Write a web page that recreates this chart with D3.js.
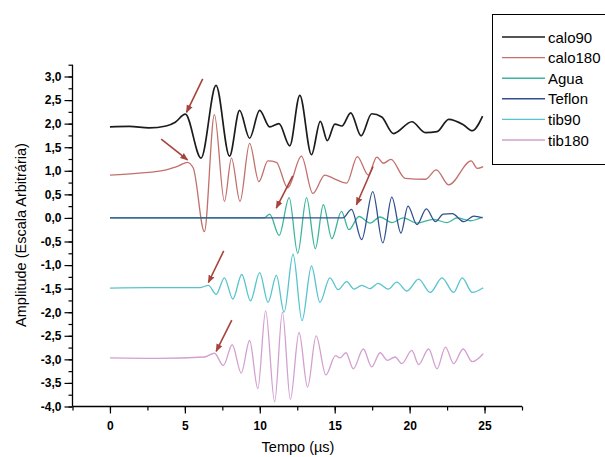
<!DOCTYPE html>
<html>
<head>
<meta charset="utf-8">
<script src="https://cdn.jsdelivr.net/npm/d3@7"></script>
<style>
  html, body { margin: 0; padding: 0; background: #fff; }
  svg { display: block; font-family: "Liberation Sans", Arial, sans-serif; }
</style>
</head>
<body>
<svg id="chart" width="605" height="457"></svg>
<script>
// Ultrasound waveforms: [time (µs), amplitude] at the turning points of each trace
const calo90 = [[0,1.93],[1.3,1.94],[2.6,1.91],[3.75,1.95],[4.36,2.03],[5.03,2.20],[6.08,1.27],[7.08,2.81],[7.98,1.31],[8.65,2.28],[9.32,1.69],[9.99,2.28],[10.66,1.93],[11.28,2.00],[12.0,1.53],[12.67,2.60],[13.45,1.34],[14.04,2.05],[14.51,1.64],[15.01,1.99],[15.48,1.95],[16.07,2.23],[16.76,1.74],[17.47,2.21],[18.14,2.14],[18.92,1.79],[20.15,2.04],[21.05,1.81],[21.83,1.83],[22.61,2.09],[23.61,1.97],[24.18,1.85],[24.87,2.16]];
const calo180 = [[0,0.91],[1.94,0.95],[3.75,1.02],[4.62,1.11],[5.16,1.18],[5.56,1.06],[6.30,-0.29],[6.97,2.19],[7.64,0.35],[8.11,1.27],[8.68,0.35],[9.32,1.58],[9.94,0.77],[10.54,1.21],[11.11,1.18],[11.86,0.64],[12.78,1.31],[13.54,0.52],[14.34,0.91],[14.90,0.84],[15.80,0.74],[16.51,1.30],[17.24,0.91],[17.81,1.29],[18.25,1.16],[18.75,1.24],[19.70,0.84],[21.05,0.82],[21.78,1.02],[22.61,0.70],[24.11,1.21],[24.51,1.05],[24.91,1.09]];
const agua = [[0,0],[10.3,0],[10.66,0.08],[11.29,-0.37],[11.96,0.43],[12.53,-0.75],[13.12,0.43],[13.71,-0.65],[14.24,0.28],[14.81,-0.44],[15.45,0.14],[15.95,-0.25],[16.62,0.03],[17.36,-0.11],[18.03,0.02],[18.82,-0.10],[19.59,0],[20.49,-0.11],[21.60,-0.03],[22.50,-0.10],[23.17,0],[24.06,-0.06],[24.87,0.02]];
const teflon = [[0,0],[15.55,0],[16.12,0.18],[16.80,-0.46],[17.54,0.56],[18.21,-0.53],[18.81,0.44],[19.42,-0.32],[19.89,0.25],[20.49,-0.14],[21.12,0.19],[21.72,-0.08],[22.25,0.08],[22.84,0.09],[23.62,-0.08],[24.28,0.04],[24.87,0]];
const tib90 = [[0,-1.49],[2.6,-1.48],[6.0,-1.48],[6.57,-1.43],[7.09,-1.62],[7.64,-1.27],[8.20,-1.72],[8.80,-1.20],[9.38,-1.76],[9.99,-1.16],[10.55,-1.79],[11.11,-1.22],[11.62,-2.00],[12.22,-0.77],[12.82,-2.18],[13.45,-1.02],[14.01,-1.79],[14.68,-1.27],[15.23,-1.52],[15.80,-1.35],[16.29,-1.51],[16.80,-1.43],[17.36,-1.50],[17.90,-1.39],[18.57,-1.51],[19.15,-1.36],[19.82,-1.55],[20.60,-1.30],[21.38,-1.58],[22.16,-1.27],[22.94,-1.58],[23.51,-1.27],[24.18,-1.58],[24.91,-1.48]];
const tib180 = [[0,-2.97],[3.3,-2.98],[6.3,-2.95],[6.97,-2.87],[7.57,-3.13],[8.16,-2.69],[8.76,-3.29],[9.32,-2.60],[9.87,-3.62],[10.39,-1.97],[10.99,-3.90],[11.51,-2.00],[12.04,-3.85],[12.62,-2.43],[13.19,-3.59],[13.76,-2.50],[14.41,-3.33],[15.05,-2.92],[15.35,-2.97],[15.75,-2.86],[16.24,-3.20],[16.91,-2.78],[17.47,-3.16],[18.03,-2.86],[18.52,-3.02],[19.03,-2.95],[19.48,-3.09],[20.15,-2.81],[20.60,-3.11],[21.27,-2.78],[21.83,-3.20],[22.39,-2.74],[22.94,-3.09],[23.57,-2.78],[24.18,-3.05],[24.91,-2.88]];

// Onset markers: [t0, a0, t1, a1], arrow head at (t1, a1)
const onsetArrows = [[6.19,2.95,5.11,2.24],[3.42,1.67,5.18,1.23],[12.2,0.89,11.1,0.21],[17.56,1.09,16.45,0.28],[7.59,-0.70,6.57,-1.37],[8.13,-2.17,7.09,-2.83]];

const seriesNames = ["calo90", "calo180", "Agua", "Teflon", "tib90", "tib180"];
const seriesData = [calo90, calo180, agua, teflon, tib90, tib180];
const seriesColors = ["#1c1c1c", "#c2706c", "#3db59c", "#2f4f8e", "#56c4cd", "#d2a0d0"];

const xMajorTicks = [0, 5, 10, 15, 20, 25];
const yMajorTicks = [3, 2.5, 2, 1.5, 1, 0.5, 0, -0.5, -1, -1.5, -2, -2.5, -3, -3.5, -4];

const svg = d3.select("#chart");
const x = d3.scaleLinear().domain([-2.5, 27.5]).range([72.5, 522]);
const y = d3.scaleLinear().domain([-4, 3]).range([406.5, 76.5]);
const yTop = 3.25;

const fmt = v => d3.format(".1f")(v).replace(".", ",").replace("−", "-");

// Traces (light ones first so darker traces sit on top)
const line = d3.line().x(d => x(d[0])).y(d => y(d[1])).curve(d3.curveMonotoneX);
const drawOrder = [1, 5, 4, 2, 3, 0];
drawOrder.forEach(i => {
  svg.append("path")
    .datum(seriesData[i])
    .attr("d", line)
    .attr("fill", "none")
    .attr("stroke", seriesColors[i])
    .attr("stroke-width", i === 0 ? 1.7 : 1.3)
    .attr("stroke-linejoin", "round");
});

// Arrow markers
const arrowColor = "#a8433c";
svg.append("defs").append("marker")
  .attr("id", "head")
  .attr("viewBox", "0 0 10 10")
  .attr("refX", 9).attr("refY", 5)
  .attr("markerWidth", 5).attr("markerHeight", 5)
  .attr("orient", "auto")
  .append("path").attr("d", "M0,1 L10,5 L0,9 Z").attr("fill", arrowColor);

svg.append("g").selectAll("line").data(onsetArrows).join("line")
  .attr("x1", d => x(d[0])).attr("y1", d => y(d[1]))
  .attr("x2", d => x(d[2])).attr("y2", d => y(d[3]))
  .attr("stroke", arrowColor).attr("stroke-width", 1.6)
  .attr("marker-end", "url(#head)");

// Axes
const xAxis = svg.append("g").attr("transform", `translate(0,${y(-4)})`);
xAxis.call(d3.axisBottom(x).tickValues(d3.range(-2.5, 27.6, 2.5)).tickSize(4).tickFormat(""));
xAxis.call(g => g.select(".domain").attr("d", `M${x(-2.5)},0H${x(27.5)}`));
xAxis.append("g").call(d3.axisBottom(x).tickValues(xMajorTicks).tickSize(7).tickFormat(d3.format("d")))
  .call(g => g.select(".domain").remove());

const yAxis = svg.append("g").attr("transform", `translate(${x(-2.5)},0)`);
yAxis.call(d3.axisLeft(y).tickValues(d3.range(-4, 3.26, 0.25)).tickSize(4).tickFormat(""));
yAxis.call(g => g.select(".domain").attr("d", `M0,${y(yTop)}V${y(-4)}`));
yAxis.append("g").call(d3.axisLeft(y).tickValues(yMajorTicks).tickSize(8).tickFormat(fmt))
  .call(g => g.select(".domain").remove());

svg.selectAll(".tick line").attr("stroke", "#000").attr("stroke-width", 1.2);
svg.selectAll(".domain").attr("stroke", "#000").attr("stroke-width", 1.3);
svg.selectAll(".tick text")
  .attr("fill", "#000").style("font-size", "12px").style("font-weight", "bold")
  .style("font-family", "'Liberation Sans', Arial, sans-serif");
xAxis.selectAll(".tick text").attr("dy", "1.1em");

// Axis titles
svg.append("text")
  .attr("x", 298).attr("y", 452)
  .attr("text-anchor", "middle")
  .style("font-size", "14.5px")
  .text("Tempo (µs)");
svg.append("text")
  .attr("transform", "translate(26,235) rotate(-90)")
  .attr("text-anchor", "middle")
  .style("font-size", "14.5px")
  .text("Amplitude (Escala Arbitrária)");

// Legend
const legend = svg.append("g");
legend.append("rect")
  .attr("x", 492.5).attr("y", 14.5).attr("width", 130).attr("height", 150)
  .attr("fill", "#fff").attr("stroke", "#000").attr("stroke-width", 1);
seriesNames.forEach((name, i) => {
  const ly = 37 + i * 20.6;
  legend.append("line")
    .attr("x1", 502).attr("x2", 545).attr("y1", ly).attr("y2", ly)
    .attr("stroke", seriesColors[i]).attr("stroke-width", i === 0 ? 1.6 : 1.4);
  legend.append("text")
    .attr("x", 548).attr("y", ly + 5.5)
    .style("font-size", "15px")
    .text(name);
});
</script>
</body>
</html>
